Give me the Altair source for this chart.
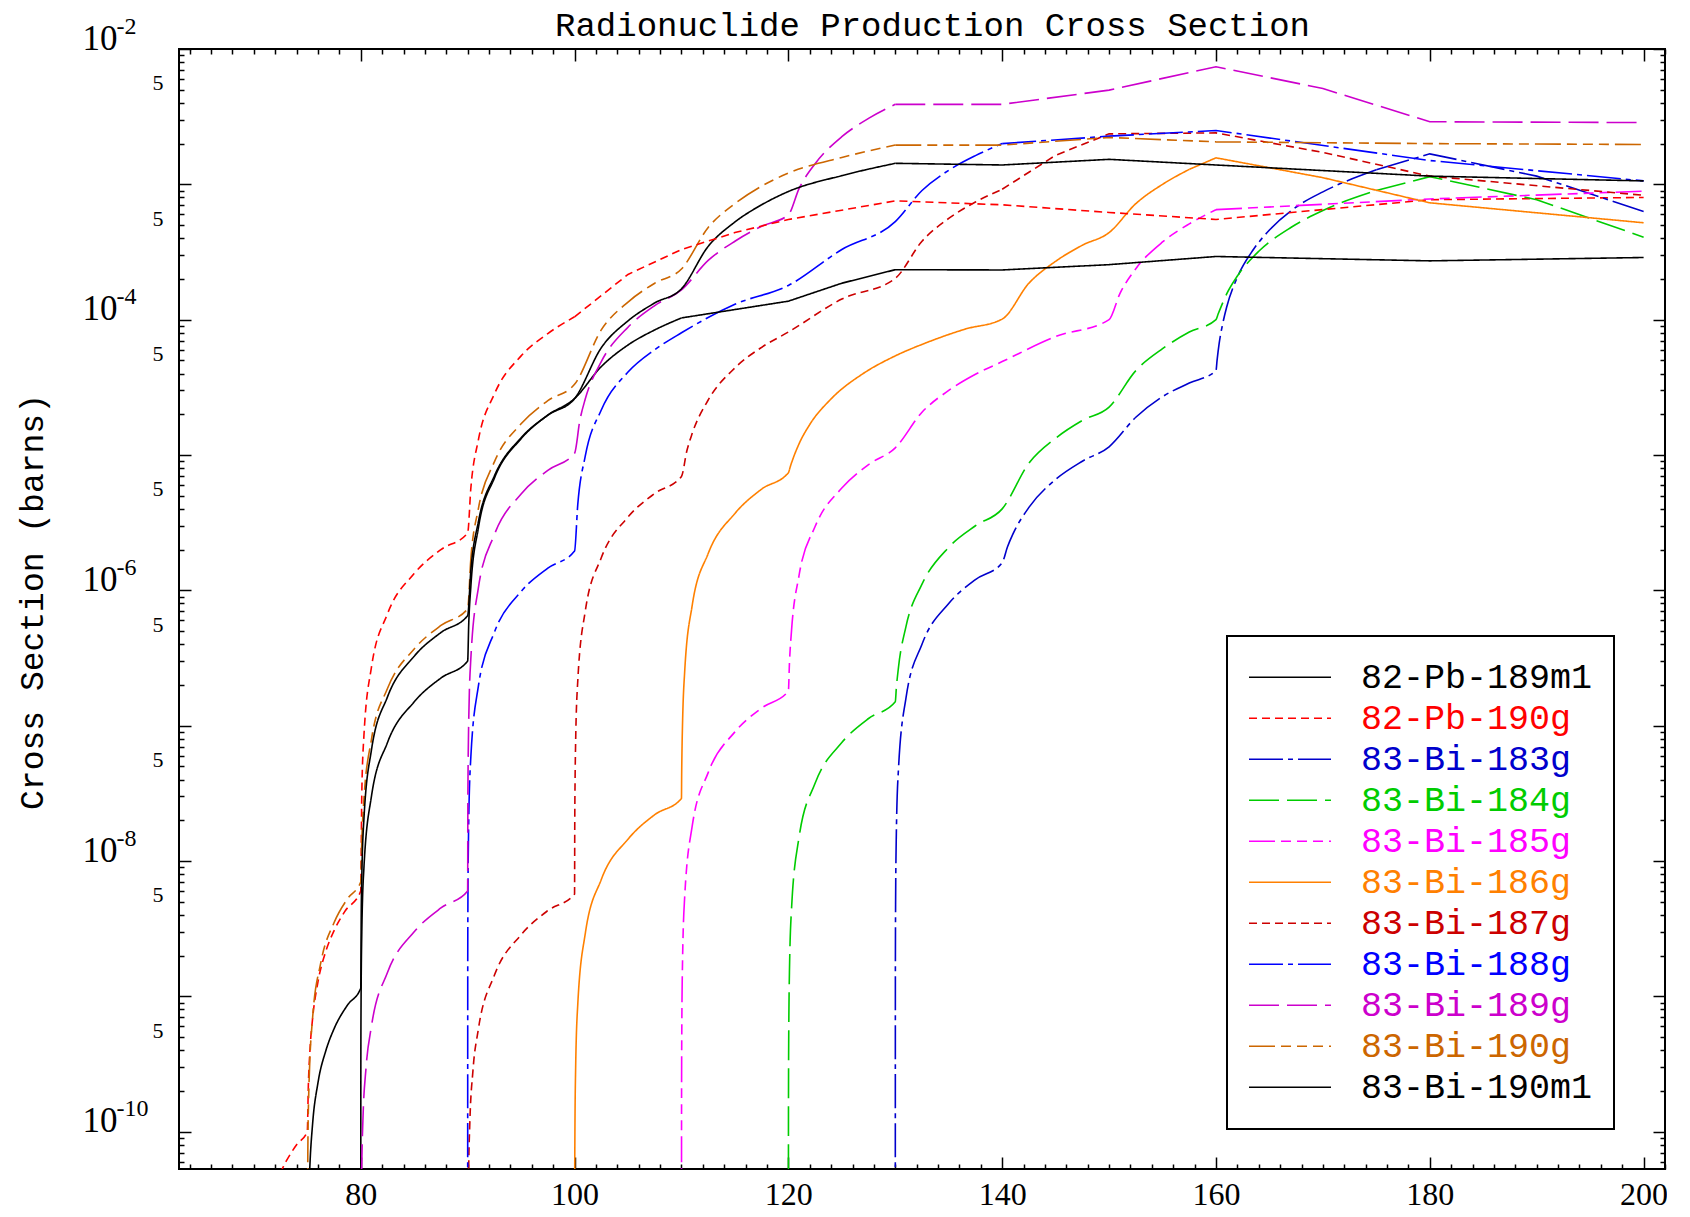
import altair as alt
import pandas as pd

# ---------------- series definitions ----------------
SERIES = ["82-Pb-189m1", "82-Pb-190g", "83-Bi-183g", "83-Bi-184g", "83-Bi-185g",
          "83-Bi-186g", "83-Bi-187g", "83-Bi-188g", "83-Bi-189g", "83-Bi-190g",
          "83-Bi-190m1"]
COLORS = ["#000000", "#FF0000", "#0000CC", "#00CC00", "#FF00FF", "#FF8000",
          "#CC0000", "#0000FF", "#CC00CC", "#CC6600", "#000000"]
SOLID = [1, 0]
DASHED = [8, 5]
DASH_DOT = [34, 5, 5, 5]
LONG_DASH = [30, 8]
DASH_DOT3 = [26, 6, 10, 6, 10, 6, 10, 6]
DASHES = [SOLID, DASHED, DASH_DOT, LONG_DASH, DASH_DOT3, SOLID,
          DASHED, DASH_DOT, LONG_DASH, DASH_DOT3, SOLID]
# energy where each curve stops rising steeply (smooth curve before, straight segments after)
SPLIT_E = [110, 100, 175, 175, 160, 157.5, 140, 140, 130, 130, 130]

# (energy MeV, cross section barns); 1e-12 = below the axis
PB189M1 = [[80, 1e-12], [80.01, 3e-10], [80.03, 9e-10], [80.1, 3e-9], [80.3, 9e-9],
           [81, 3e-8], [82.5, 7.5e-8], [85, 1.5e-7], [87.5, 2.25e-7], [90, 3.0e-7],
           [90.1, 5.6e-7], [90.3, 1.07e-6], [91, 2.88e-6], [92.5, 6.75e-6], [95, 1.32e-5],
           [97.5, 1.97e-5], [100, 2.61e-5], [102.5, 4.5e-5], [105, 6.5e-5], [107.5, 8.4e-5],
           [110, 1.03e-4], [120, 1.37e-4], [125, 1.86e-4], [130, 2.34e-4], [140, 2.33e-4],
           [150, 2.55e-4], [160, 2.93e-4], [180, 2.72e-4], [200, 2.88e-4]]
PB190G = [[72, 4e-11], [72.5, 5e-11], [73, 6e-11], [73.5, 7e-11], [74, 8e-11],
          [75, 1.0e-10], [75.1, 2.2e-10], [75.25, 4.0e-10], [75.5, 6.9e-10], [76, 1.28e-9],
          [76.75, 2.17e-9], [77.5, 3.05e-9], [78.5, 4.23e-9], [80, 6.0e-9], [80.1, 3.2e-8],
          [80.3, 8.5e-8], [81, 2.7e-7], [82.5, 6.7e-7], [85, 1.33e-6], [87.5, 2.0e-6],
          [90, 2.65e-6], [90.3, 5.7e-6], [91, 1.29e-5], [92.5, 2.82e-5], [95, 5.4e-5],
          [97.5, 7.9e-5], [100, 1.05e-4], [105, 2.16e-4], [110, 3.3e-4], [115, 4.4e-4],
          [120, 5.5e-4], [130, 7.55e-4], [140, 7.06e-4], [150, 6.2e-4], [160, 5.5e-4],
          [180, 7.7e-4], [200, 8.0e-4]]
BI183G = [[130, 1e-12], [130.01, 1.6e-9], [130.03, 4.8e-9], [130.1, 1.6e-8], [130.3, 4.8e-8],
          [131, 1.6e-7], [132.5, 4.0e-7], [135, 8.0e-7], [137.5, 1.2e-6], [140, 1.6e-6],
          [140.5, 2.1e-6], [141, 2.6e-6], [142.5, 4.1e-6], [145, 6.6e-6], [147.5, 9.0e-6],
          [150, 1.15e-5], [152.5, 1.9e-5], [155, 2.7e-5], [157.5, 3.4e-5], [160, 4.2e-5],
          [160.1, 5.0e-5], [160.3, 6.7e-5], [160.6, 9.1e-5], [161, 1.24e-4], [162, 2.06e-4],
          [163.5, 3.3e-4], [165, 4.6e-4], [167.5, 6.8e-4], [170, 8.8e-4], [175, 1.28e-3],
          [180, 1.68e-3], [190, 1.15e-3], [200, 6.3e-4]]
BI184G = [[120, 1e-12], [120.01, 1.5e-10], [120.03, 4.5e-10], [120.1, 1.5e-9], [120.3, 4.5e-9],
          [121, 1.5e-8], [122.5, 3.75e-8], [125, 7.5e-8], [127.5, 1.13e-7], [130, 1.5e-7],
          [130.1, 1.9e-7], [130.3, 2.7e-7], [131, 5.4e-7], [132.5, 1.11e-6], [135, 2.08e-6],
          [137.5, 3.0e-6], [140, 4.0e-6], [142.5, 8.7e-6], [145, 1.33e-5], [147.5, 1.8e-5],
          [150, 2.26e-5], [152.5, 4.2e-5], [155, 6.1e-5], [157.5, 8.1e-5], [160, 1.0e-4],
          [160.2, 1.1e-4], [160.5, 1.26e-4], [161, 1.55e-4], [162, 2.1e-4], [164, 3.2e-4],
          [167, 4.8e-4], [170, 6.4e-4], [175, 9.0e-4], [180, 1.14e-3], [190, 7.7e-4],
          [200, 4.07e-4]]
BI185G = [[110, 1e-12], [110.01, 1.8e-10], [110.03, 5.4e-10], [110.1, 1.8e-9], [110.3, 5.4e-9],
          [111, 1.8e-8], [112.5, 4.5e-8], [115, 9.0e-8], [117.5, 1.35e-7], [120, 1.8e-7],
          [120.1, 2.9e-7], [120.3, 5.1e-7], [121, 1.29e-6], [122.5, 2.96e-6], [125, 5.7e-6],
          [127.5, 8.5e-6], [130, 1.13e-5], [132.5, 2.07e-5], [135, 3.0e-5], [137.5, 3.95e-5],
          [140, 4.9e-5], [145, 7.5e-5], [150, 1.0e-4], [151, 1.55e-4], [152.5, 2.38e-4],
          [155, 3.75e-4], [157.5, 5.1e-4], [160, 6.5e-4], [180, 7.8e-4], [200, 8.9e-4]]
BI186G = [[100, 1e-12], [100.01, 2.9e-11], [100.03, 8.7e-11], [100.1, 2.9e-10], [100.3, 8.7e-10],
          [101, 2.9e-9], [102.5, 7.3e-9], [105, 1.45e-8], [107.5, 2.2e-8], [110, 2.9e-8],
          [110.02, 4.4e-8], [110.05, 6.6e-8], [110.1, 1.03e-7], [110.3, 2.5e-7], [111, 7.7e-7],
          [112.5, 1.87e-6], [115, 3.7e-6], [117.5, 5.6e-6], [120, 7.4e-6], [120.2, 8.3e-6],
          [120.5, 9.7e-6], [121, 1.21e-5], [122, 1.68e-5], [124, 2.6e-5], [127, 4.0e-5],
          [130, 5.4e-5], [133, 6.8e-5], [136.5, 8.5e-5], [140, 1.01e-4], [142.5, 1.86e-4],
          [145, 2.7e-4], [147.5, 3.55e-4], [150, 4.4e-4], [152.5, 7.2e-4], [155, 1.0e-3],
          [157.5, 1.29e-3], [160, 1.57e-3], [170, 1.12e-3], [180, 7.3e-4], [200, 5.2e-4]]
BI187G = [[90, 1e-12], [90.05, 2.85e-11], [90.1, 5.7e-11], [90.2, 1.14e-10], [90.5, 2.85e-10],
          [91, 5.7e-10], [92.5, 1.43e-9], [95, 2.85e-9], [97.5, 4.3e-9], [100, 5.7e-9],
          [100.02, 1.96e-8], [100.05, 4.0e-8], [100.1, 7.5e-8], [100.3, 2.14e-7], [101, 7.0e-7],
          [102.5, 1.74e-6], [105, 3.48e-6], [107.5, 5.2e-6], [110, 6.95e-6], [110.5, 1.07e-5],
          [111, 1.44e-5], [112.5, 2.55e-5], [115, 4.4e-5], [117.5, 6.25e-5], [120, 8.1e-5],
          [125, 1.42e-4], [130, 2.02e-4], [132.5, 3.8e-4], [135, 5.6e-4], [137.5, 7.4e-4],
          [140, 9.2e-4], [145, 1.64e-3], [150, 2.36e-3], [160, 2.4e-3], [170, 1.72e-3],
          [180, 1.15e-3], [200, 8.3e-4]]
BI188G = [[90, 1e-12], [90.01, 1.95e-9], [90.03, 5.9e-9], [90.1, 1.95e-8], [90.3, 5.9e-8],
          [91, 1.95e-7], [92.5, 4.9e-7], [95, 9.8e-7], [97.5, 1.46e-6], [100, 1.95e-6],
          [100.3, 4.3e-6], [101, 9.8e-6], [102.5, 2.15e-5], [105, 4.1e-5], [107.5, 6.0e-5],
          [110, 8.0e-5], [115, 1.3e-4], [120, 1.79e-4], [125, 3.3e-4], [130, 5.3e-4],
          [132.5, 9.0e-4], [135, 1.27e-3], [137.5, 1.63e-3], [140, 2.0e-3], [150, 2.27e-3],
          [160, 2.5e-3], [180, 1.5e-3], [200, 1.06e-3]]
BI189G = [[80, 1e-12], [80.05, 3e-11], [80.1, 6e-11], [80.2, 1.2e-10], [80.5, 3e-10],
          [81, 6e-10], [82.5, 1.5e-9], [85, 3.0e-9], [87.5, 4.5e-9], [90, 6.0e-9],
          [90.02, 2.7e-8], [90.05, 5.8e-8], [90.1, 1.09e-7], [90.3, 3.15e-7], [91, 1.04e-6],
          [92.5, 2.58e-6], [95, 5.15e-6], [97.5, 7.7e-6], [100, 1.03e-5], [100.5, 1.81e-5],
          [101, 2.59e-5], [102.5, 4.9e-5], [105, 8.8e-5], [107.5, 1.27e-4], [110, 1.66e-4],
          [112.5, 2.74e-4], [115, 3.8e-4], [117.5, 4.9e-4], [120, 5.96e-4], [121, 9.3e-4],
          [122.5, 1.42e-3], [125, 2.25e-3], [127.5, 3.07e-3], [130, 3.9e-3], [140, 3.9e-3],
          [150, 4.97e-3], [160, 7.4e-3], [170, 5.1e-3], [180, 2.9e-3], [200, 2.86e-3]]
BI190G = [[75, 1e-12], [75.05, 7e-11], [75.15, 2.1e-10], [75.5, 7e-10], [76.25, 1.75e-9],
          [77.5, 3.5e-9], [78.75, 5.25e-9], [80, 7.0e-9], [80.1, 1.42e-8], [80.3, 2.87e-8],
          [81, 7.9e-8], [82.5, 1.88e-7], [85, 3.69e-7], [87.5, 5.5e-7], [90, 7.3e-7],
          [90.3, 1.71e-6], [91, 4.0e-6], [92.5, 8.9e-6], [95, 1.7e-5], [97.5, 2.52e-5],
          [100, 3.33e-5], [102.5, 8.4e-5], [105, 1.35e-4], [107.5, 1.86e-4], [110, 2.37e-4],
          [112.5, 4.8e-4], [115, 7.2e-4], [117.5, 9.7e-4], [120, 1.21e-3], [125, 1.58e-3],
          [130, 1.95e-3], [140, 1.95e-3], [150, 2.22e-3], [160, 2.06e-3], [180, 2.0e-3],
          [200, 1.97e-3]]
BI190M1 = [[75, 1e-12], [75.2, 4.6e-11], [75.25, 5.75e-11], [75.5, 1.15e-10], [76, 2.3e-10],
           [76.75, 4.0e-10], [77.5, 5.75e-10], [78.75, 8.6e-10], [80, 1.15e-9], [80.05, 4.4e-9],
           [80.1, 7.6e-9], [80.3, 2.06e-8], [81, 6.6e-8], [82.5, 1.63e-7], [85, 3.26e-7],
           [87.5, 4.88e-7], [90, 6.5e-7], [90.3, 1.41e-6], [91, 3.2e-6], [92.5, 7.0e-6],
           [95, 1.34e-5], [97.5, 1.97e-5], [100, 2.61e-5], [102.5, 6.2e-5], [105, 9.8e-5],
           [107.5, 1.33e-4], [110, 1.69e-4], [112.5, 3.48e-4], [115, 5.27e-4], [117.5, 7.06e-4],
           [120, 8.85e-4], [125, 1.16e-3], [130, 1.43e-3], [140, 1.39e-3], [150, 1.53e-3],
           [160, 1.39e-3], [180, 1.15e-3], [200, 1.06e-3]]

SERIES_POINTS = [PB189M1, PB190G, BI183G, BI184G, BI185G, BI186G,
                 BI187G, BI188G, BI189G, BI190G, BI190M1]

# ---------------- axes / ticks ----------------
X_DOMAIN = [63, 202]
Y_DOMAIN = [5.3e-11, 1e-2]
X_LABELS = [80, 100, 120, 140, 160, 180, 200]
X_TICKS = list(range(64, 203, 2))
Y_TICKS = [k * 10.0 ** n for n in range(-11, -1) for k in range(1, 10)
           if 5.3e-11 <= k * 10.0 ** n <= 1.0001e-2]
Y_LABELS = [1e-2, 5e-3, 5e-4, 1e-4, 5e-5, 5e-6, 1e-6, 5e-7, 5e-8, 1e-8, 5e-9, 5e-10, 1e-10]
Y_EXPONENTS = [1e-2, 1e-4, 1e-6, 1e-8, 1e-10]

TITLE = "Radionuclide Production Cross Section"
Y_TITLE = "Cross Section (barns)"

W, H = 1486, 1120

rise_rows, tail_rows = [], []
for name, pts, split in zip(SERIES, SERIES_POINTS, SPLIT_E):
    for e, s in pts:
        row = {"series": name, "E": e, "sigma": s}
        if e <= split:
            rise_rows.append(row)
        if e >= split:
            tail_rows.append(row)
rise_df = pd.DataFrame(rise_rows)
tail_df = pd.DataFrame(tail_rows)

IS_POW = "abs(log(datum.value)/LN10 - round(log(datum.value)/LN10)) < 1e-6"
X_MAJOR = "datum.value % 20 === 0"

xscale = alt.Scale(domain=X_DOMAIN, nice=False, zero=False)
yscale = alt.Scale(type="log", domain=Y_DOMAIN, nice=False)

legend = alt.Legend(
    title=None, orient="none", legendX=1048, legendY=587, direction="vertical",
    symbolType="stroke", symbolSize=6724, symbolStrokeWidth=1.6,
    labelFont="Liberation Mono", labelFontSize=35, labelLimit=0, labelOffset=29,
    labelColor={"expr": "scale('color', datum.value)"},
    padding=21, rowPadding=0, clipHeight=40.6,
    strokeColor="black", fillColor="white",
)

color_enc = alt.Color("series:N", scale=alt.Scale(domain=SERIES, range=COLORS), legend=legend)
dash_enc = alt.StrokeDash("series:N", scale=alt.Scale(domain=SERIES, range=DASHES),
                          legend=legend)

lines_rise = alt.Chart(rise_df).mark_line(
    clip=True, strokeWidth=1.6, interpolate="monotone"
).encode(
    x=alt.X("E:Q", scale=xscale, axis=alt.Axis(
        orient="bottom", values=X_LABELS, ticks=False, tickSize=0, domain=False,
        grid=False, title=None, labelFont="Liberation Serif", labelFontSize=32,
        labelPadding=10, labelColor="black", labelFlush=False, labelOverlap=False)),
    y=alt.Y("sigma:Q", scale=yscale, axis=alt.Axis(
        orient="left", values=Y_LABELS, ticks=False, tickSize=0, domain=False,
        grid=False, labelExpr=IS_POW + " ? '10' : '5'",
        labelFont="Liberation Serif",
        labelFontSize={"condition": {"test": IS_POW, "value": 35}, "value": 22},
        labelPadding={"condition": {"test": IS_POW, "value": 62}, "value": 16},
        labelBaseline="alphabetic", labelAlign="right", labelColor="black",
        labelFlush=False, labelOverlap=False,
        title=Y_TITLE, titleFont="Liberation Mono", titleFontSize=33,
        titleFontWeight="normal", titleColor="black", titleX=-146.7, titleY=552.5,
        titleAngle=270, titleBaseline="middle", titleAlign="center")),
    color=color_enc,
    strokeDash=dash_enc,
    order=alt.Order("E:Q"),
)

lines_tail = alt.Chart(tail_df).mark_line(clip=True, strokeWidth=1.6).encode(
    x=alt.X("E:Q", scale=xscale, axis=None),
    y=alt.Y("sigma:Q", scale=yscale, axis=None),
    color=color_enc,
    strokeDash=dash_enc,
    order=alt.Order("E:Q"),
)

x_tick_size = {"condition": {"test": X_MAJOR, "value": 12}, "value": 5}
y_tick_size = {"condition": {"test": IS_POW, "value": 12}, "value": 5}

base = alt.Chart(tail_df)

# inward ticks on bottom and left edges
ticks_bl = base.mark_point(opacity=0).encode(
    x=alt.X("E:Q", scale=xscale, axis=alt.Axis(
        orient="top", offset=-H, values=X_TICKS, labels=False, domain=False, grid=False,
        title=None, tickSize=x_tick_size, tickColor="black", tickWidth=1.5)),
    y=alt.Y("sigma:Q", scale=yscale, axis=alt.Axis(
        orient="right", offset=-W, values=Y_TICKS, labels=False, domain=False, grid=False,
        title=None, tickSize=y_tick_size, tickColor="black", tickWidth=1.5)),
)

# inward ticks on top and right edges
ticks_tr = base.mark_point(opacity=0).encode(
    x=alt.X("E:Q", scale=xscale, axis=alt.Axis(
        orient="bottom", offset=-H, values=X_TICKS, labels=False, domain=False, grid=False,
        title=None, tickSize=x_tick_size, tickColor="black", tickWidth=1.5)),
    y=alt.Y("sigma:Q", scale=yscale, axis=alt.Axis(
        orient="left", offset=-W, values=Y_TICKS, labels=False, domain=False, grid=False,
        title=None, tickSize=y_tick_size, tickColor="black", tickWidth=1.5)),
)

# exponents of the decade labels + chart title (as a top axis title)
exps = base.mark_point(opacity=0).encode(
    x=alt.X("E:Q", scale=xscale, axis=alt.Axis(
        orient="top", ticks=False, tickSize=0, labels=False, domain=False, grid=False,
        title=TITLE, titleFont="Liberation Mono", titleFontSize=34,
        titleFontWeight="normal", titleColor="black", titleX=753, titleY=-14,
        titleAlign="center", titleBaseline="alphabetic", titleAngle=0)),
    y=alt.Y("sigma:Q", scale=yscale, axis=alt.Axis(
        orient="left", values=Y_EXPONENTS, ticks=False, tickSize=0, domain=False,
        grid=False, title=None,
        labelExpr="'-' + round(-log(datum.value)/LN10)",
        labelFont="Liberation Serif", labelFontSize=24, labelColor="black",
        labelAlign="left", labelBaseline="alphabetic", labelPadding=63, labelOffset=-16,
        labelFlush=False, labelOverlap=False)),
)

chart = alt.layer(lines_rise, lines_tail, ticks_bl, ticks_tr, exps).resolve_axis(
    x="independent", y="independent"
).properties(
    width=W, height=H,
    autosize=alt.AutoSizeParams(type="none"),
    padding={"left": 171, "top": 41, "right": 2, "bottom": 44},
).configure_view(
    stroke="black", strokeWidth=2
).configure_legend(
    strokeWidth=2
)

chart.save("out.html", embed_options={"renderer": "svg", "actions": False})
